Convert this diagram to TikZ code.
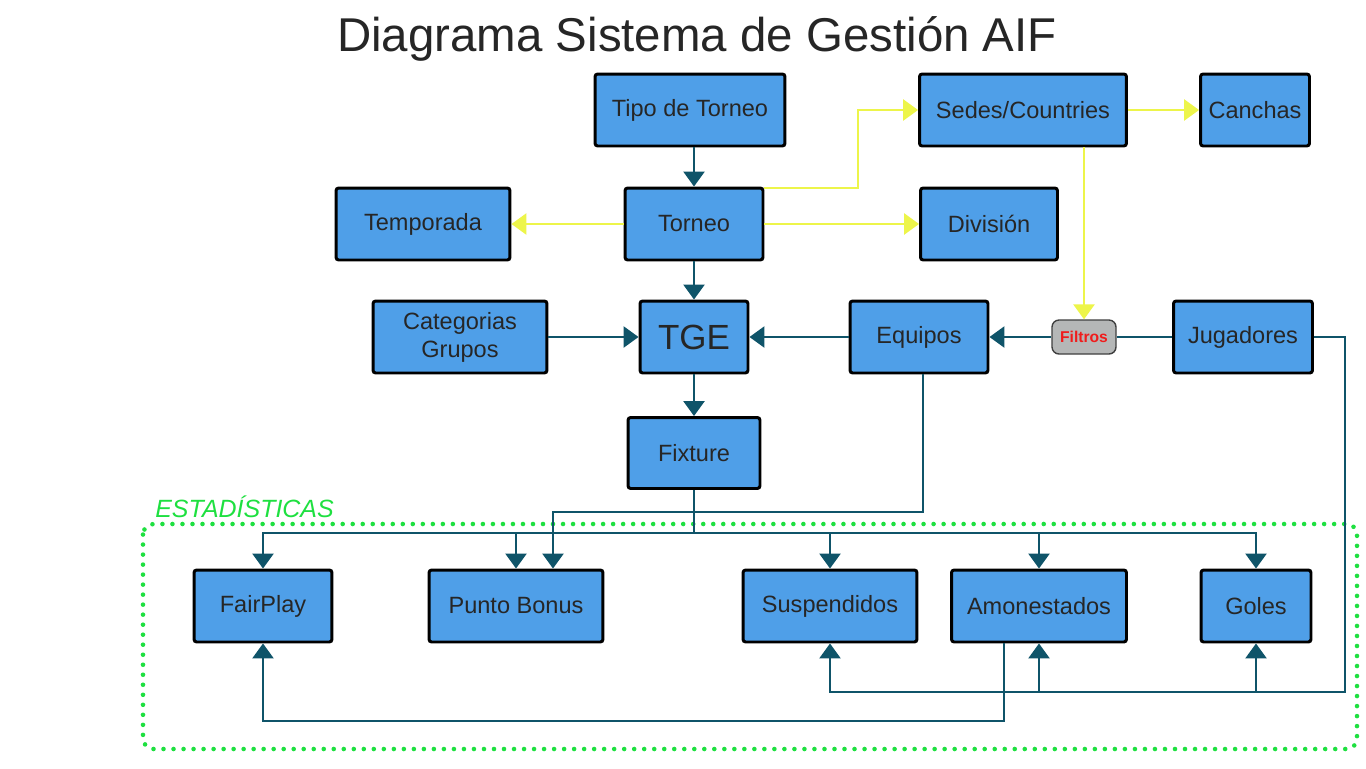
\documentclass[tikz,border=0pt]{standalone}
\usepackage{fontspec}
\setmainfont{Liberation Sans}
\usetikzlibrary{arrows.meta}
\definecolor{boxblue}{HTML}{4F9FE8}
\definecolor{tealc}{HTML}{0F5469}
\definecolor{yel}{HTML}{EDF54A}
\definecolor{grn}{HTML}{1EE040}
\definecolor{txtgray}{HTML}{262626}
\definecolor{filgray}{HTML}{B5B7B7}
\definecolor{filred}{HTML}{F01C1C}
\tikzset{
  box/.style={draw=black, line width=1.7pt, fill=boxblue, rounded corners=1.5pt,
    minimum height=1.44cm, inner sep=2pt, font=\fontsize{13.4}{15.9}\selectfont,
    text=txtgray, align=center},
  tl/.style={draw=tealc, line width=1.2pt, -{Triangle[length=8.5pt,width=12pt]}},
  tln/.style={draw=tealc, line width=1.2pt},
  yl/.style={draw=yel, line width=1.3pt, -{Triangle[length=8.5pt,width=12pt]}},
  frame/.style={draw=grn, line width=2.6pt, dash pattern=on 0pt off 5.7pt, line cap=round, rounded corners=6pt}
}
\begin{document}
\begin{tikzpicture}[x=0.02cm,y=-0.02cm]
\useasboundingbox[fill=white] (0,0) rectangle (1366,768);

% title
\node[text=txtgray, font=\fontsize{27}{32}\selectfont] (title) at (697,39) {Diagrama Sistema de Gestión AIF};

% frame
\draw[frame] (143,524) rectangle (1357,749);
\node[anchor=west, text=grn, font=\itshape\fontsize{14.2}{17}\selectfont, inner sep=0pt] (estad) at (155,507) {ESTADÍSTICAS};

% nodes
\node[box, minimum width=3.8cm] (tipo) at (690,110) {Tipo de Torneo};
\node[box, minimum width=4.14cm] (sedes) at (1023,110) {Sedes/Countries};
\node[box, minimum width=2.18cm] (canchas) at (1255,110) {Canchas};
\node[box, minimum width=3.48cm] (temporada) at (423,224) {Temporada};
\node[box, minimum width=2.76cm] (torneo) at (694,224) {Torneo};
\node[box, minimum width=2.74cm] (division) at (989,224) {División};
\node[box, minimum width=3.48cm] (cat) at (460,337) {Categorias\\Grupos};
\node[box, minimum width=2.16cm, font=\fontsize{19.9}{22}\selectfont] (tge) at (694,337) {TGE};
\node[box, minimum width=2.76cm] (equipos) at (919,337) {Equipos};
\node[draw=black!75, line width=0.8pt, fill=filgray, rounded corners=4pt,
  minimum width=1.28cm, minimum height=0.68cm, inner sep=1pt, text=filred,
  font=\bfseries\fontsize{8.9}{10}\selectfont] (filtros) at (1084,337) {Filtros};
\node[box, minimum width=2.78cm] (jugadores) at (1243,337) {Jugadores};
\node[box, minimum width=2.64cm, minimum height=1.42cm] (fixture) at (694,453) {Fixture};
\node[box, minimum width=2.76cm] (fairplay) at (263,606) {FairPlay};
\node[box, minimum width=3.48cm] (punto) at (516,606) {Punto Bonus};
\node[box, minimum width=3.48cm] (susp) at (830,606) {Suspendidos};
\node[box, minimum width=3.5cm] (amon) at (1039,606) {Amonestados};
\node[box, minimum width=2.2cm] (goles) at (1256,606) {Goles};

% teal connectors (top part)
\draw[tl] (torneo.north |- tipo.south) -- (torneo.north);
\draw[tl] (torneo) -- (tge);
\draw[tl] (tge) -- (fixture);
\draw[tl] (cat) -- (tge);
\draw[tl] (equipos) -- (tge);
\draw[tl] (filtros) -- (equipos);
\draw[tln] (jugadores) -- (filtros);

% yellow connectors
\draw[yl] (torneo) -- (temporada);
\draw[yl] (torneo) -- (division);
\coordinate (ybend) at (858,188);
\draw[yl] (ybend -| torneo.east) -- (ybend) |- (sedes.west);
\draw[yl] (sedes) -- (canchas);
\draw[yl] (sedes.south -| filtros.north) -- (filtros.north);

% fixture bus
\coordinate (bus) at (694,533);
\draw[tln] (fixture.south) -- (bus);
\draw[tl] (bus) -| (fairplay.north);
\draw[tl] (bus) -| (punto.north);
\draw[tl] (bus) -| (susp.north);
\draw[tl] (bus) -| (amon.north);
\draw[tl] (bus) -| (goles.north);

% equipos to punto bonus
\coordinate (eqbend) at (923,512);
\draw[tl] (equipos.south -| eqbend) -- (eqbend) -| ([xshift=0.74cm]punto.north);

% jugadores return bus
\coordinate (jr) at (1345,337);
\coordinate (jb) at (1345,692);
\draw[tl] (jugadores.east) -- (jr) -- (jb) -| (susp.south);
\draw[tl] (jb) -| (amon.south);
\draw[tl] (jb) -| (goles.south);

% amonestados to fairplay
\coordinate (ab) at (1004,721);
\draw[tl] (amon.south -| ab) -- (ab) -| (fairplay.south);
\end{tikzpicture}
\end{document}
